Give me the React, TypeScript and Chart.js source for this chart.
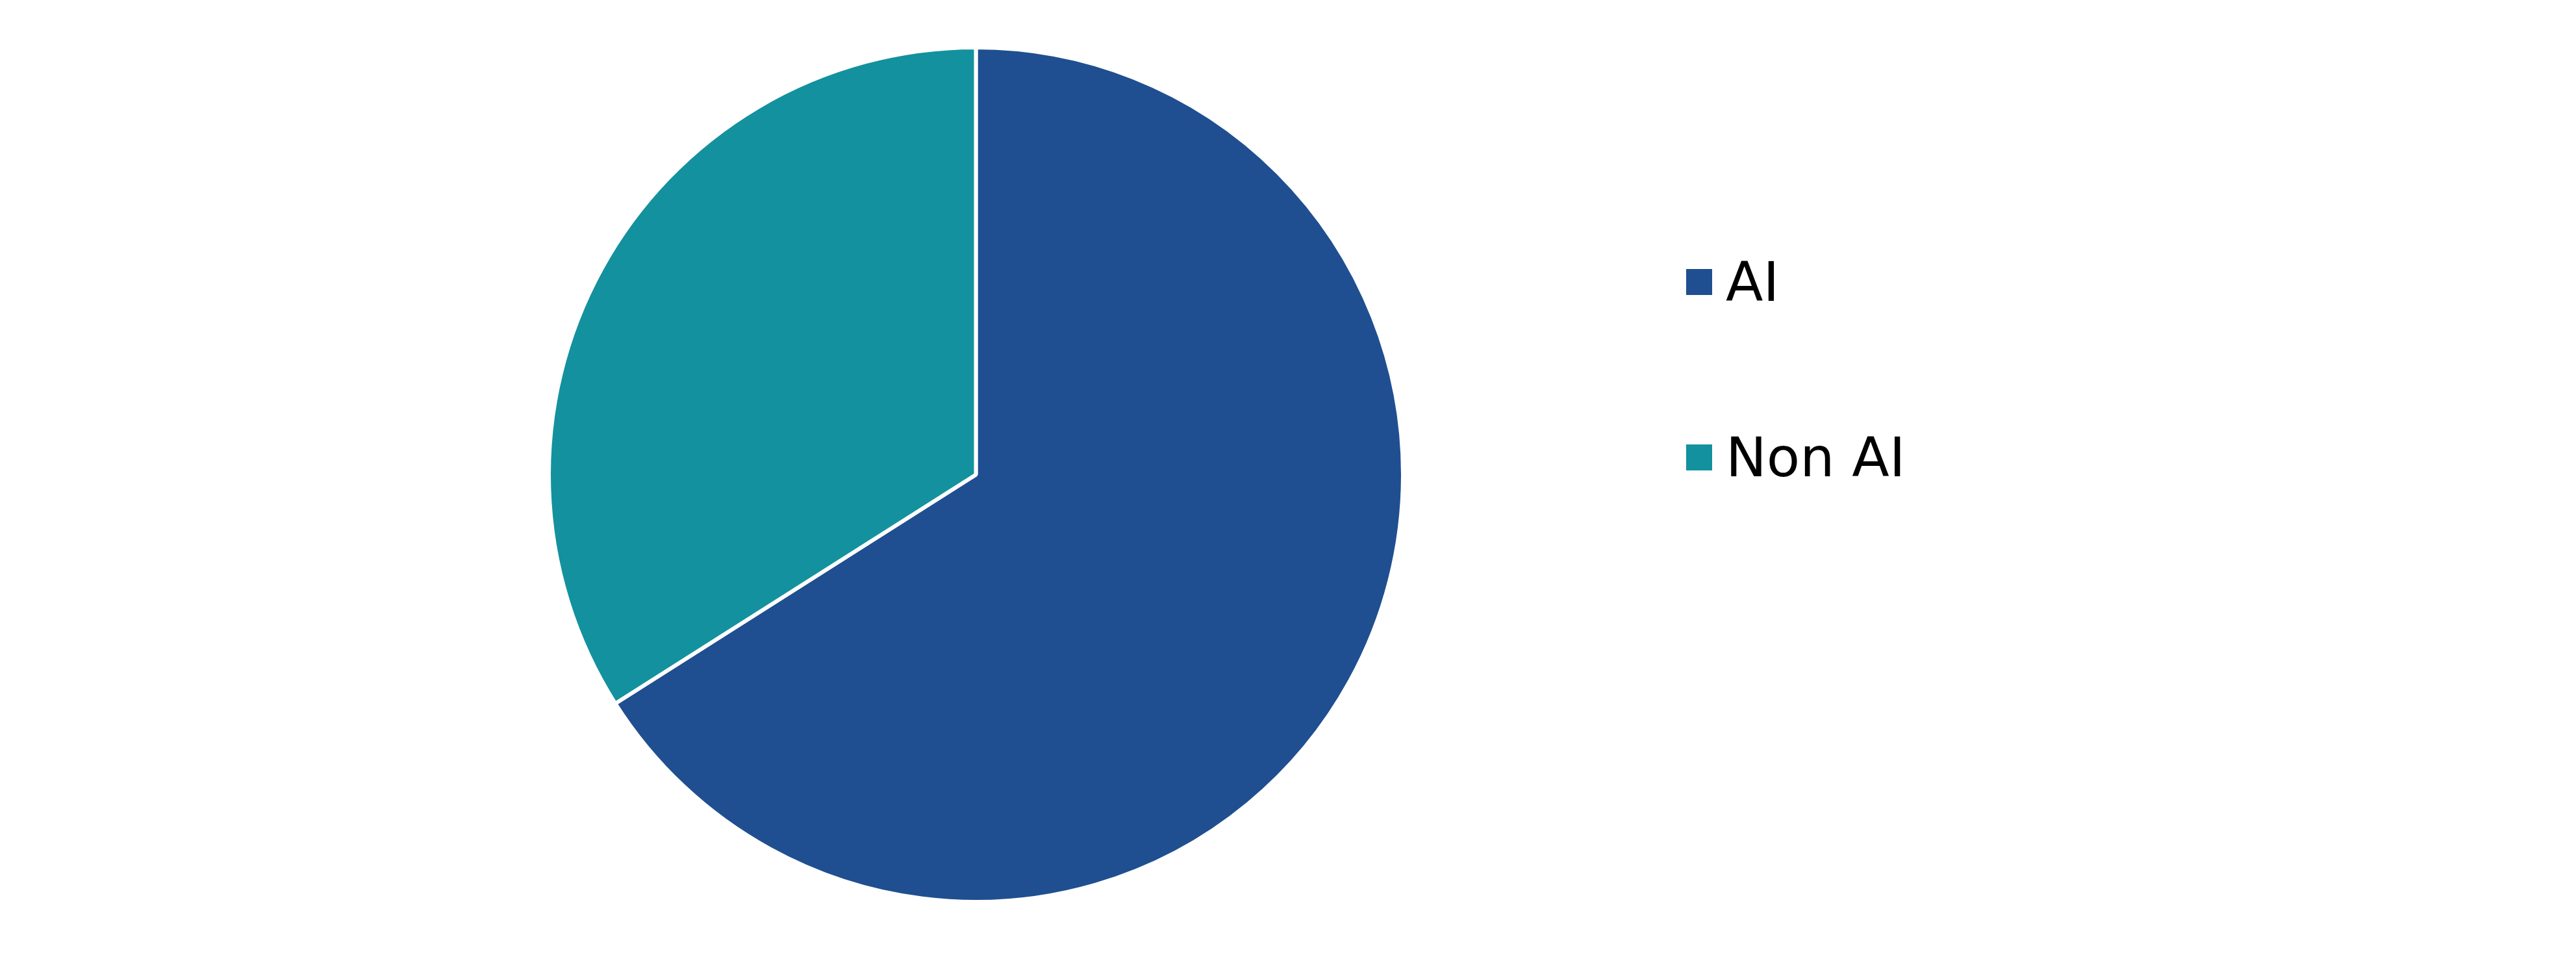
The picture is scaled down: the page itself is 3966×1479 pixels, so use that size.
import React, { useEffect, useRef } from 'react';
import Chart from 'chart.js/auto';

// Datos del gráfico
const categories = ['AI', 'Non AI'];
const shares = [66, 34];
const sliceColors = ['#1F4F91', '#13919E'];

const FONT = '"DejaVu Sans", Verdana, sans-serif';

const App = () => {
  const chartRef = useRef<HTMLCanvasElement>(null);
  const chartInstance = useRef<Chart | null>(null);

  useEffect(() => {
    document.body.style.margin = '0';

    if (chartInstance.current) {
      chartInstance.current.destroy();
    }

    const ctx = chartRef.current;
    if (!ctx) return;

    chartInstance.current = new Chart(ctx, {
      type: 'pie',
      data: {
        labels: categories,
        datasets: [
          {
            data: shares,
            backgroundColor: sliceColors,
            borderColor: '#ffffff',
            borderWidth: 6,
          },
        ],
      },
      options: {
        responsive: true,
        maintainAspectRatio: false,
        animation: false,
        layout: {
          padding: { top: 70, bottom: 88, left: 842, right: 1803 },
        },
        plugins: {
          legend: { display: false },
          tooltip: { enabled: false },
        },
      },
    });

    return () => {
      if (chartInstance.current) {
        chartInstance.current.destroy();
        chartInstance.current = null;
      }
    };
  }, []);

  return (
    <div style={{ position: 'relative', width: 3966, height: 1479, background: '#fff' }}>
      <canvas ref={chartRef} style={{ position: 'absolute', left: 0, top: 0 }}></canvas>
      {/* leyenda */}
      <div
        style={{
          position: 'absolute',
          left: 2596,
          top: 392,
          display: 'flex',
          flexDirection: 'column',
          gap: 186,
          fontFamily: FONT,
          fontSize: 84,
          lineHeight: '84px',
          color: '#000',
        }}
      >
        {categories.map((label, i) => (
          <div key={label} style={{ display: 'flex', alignItems: 'center', height: 84 }}>
            <span
              style={{
                display: 'inline-block',
                width: 40,
                height: 40,
                background: sliceColors[i],
                marginRight: 21,
              }}
            ></span>
            <span>{label}</span>
          </div>
        ))}
      </div>
    </div>
  );
};

export default App;
